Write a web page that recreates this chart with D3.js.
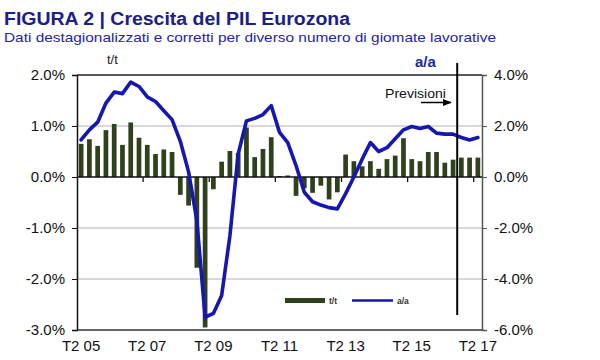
<!DOCTYPE html>
<html><head><meta charset="utf-8">
<script src="https://cdn.jsdelivr.net/npm/d3@7"></script>
<style>body{margin:0;background:#fff}svg{display:block}text{font-family:"Liberation Sans",Arial,sans-serif}</style>
</head><body>
<script>
const categories = ["T2 05","T3 05","T4 05","T1 06","T2 06","T3 06","T4 06","T1 07","T2 07","T3 07","T4 07","T1 08",
"T2 08","T3 08","T4 08","T1 09","T2 09","T3 09","T4 09","T1 10","T2 10","T3 10","T4 10","T1 11",
"T2 11","T3 11","T4 11","T1 12","T2 12","T3 12","T4 12","T1 13","T2 13","T3 13","T4 13","T1 14",
"T2 14","T3 14","T4 14","T1 15","T2 15","T3 15","T4 15","T1 16","T2 16","T3 16","T4 16","T1 17","T2 17"];
const qoq = [0.65,0.74,0.61,0.92,1.04,0.63,1.07,0.77,0.63,0.45,0.54,0.49,
-0.35,-0.56,-1.78,-2.95,-0.24,0.30,0.51,0.47,0.97,0.39,0.55,0.78,
0.02,0.03,-0.37,-0.22,-0.31,-0.17,-0.44,-0.30,0.44,0.31,0.21,0.31,
0.16,0.35,0.42,0.76,0.35,0.31,0.49,0.49,0.28,0.34,0.38,0.38,0.38];
const yoy = [1.46,1.85,2.15,2.90,3.33,3.27,3.72,3.55,3.14,2.96,2.60,2.25,
1.40,0.20,-1.70,-5.50,-5.35,-4.65,-2.30,0.90,2.20,2.30,2.45,2.80,
1.75,1.35,0.45,-0.60,-0.97,-1.10,-1.20,-1.25,-0.65,0.00,0.70,1.35,
1.00,1.15,1.50,1.85,1.98,1.90,1.98,1.72,1.68,1.68,1.55,1.45,1.55];
const xTickLabels = ["T2 05","T2 07","T2 09","T2 11","T2 13","T2 15","T2 17"];
const leftTicks = [-3,-2,-1,0,1,2];
const rightTicks = [-6,-4,-2,0,2,4];
const forecastStart = "T4 16";

const W=600,H=360, L=77, R=482, T=75, B=330;
const svg = d3.select("body").append("svg").attr("width",W).attr("height",H);

const x = d3.scaleBand().domain(categories).range([L,R]).paddingInner(0.43).paddingOuter(0.215);
const yL = d3.scaleLinear().domain([-3,2]).range([B,T]);
const yR = d3.scaleLinear().domain([-6,4]).range([B,T]);
const step = x.step();
const cx = d => x(d) + x.bandwidth()/2;

// title
svg.append("text").attr("x",4).attr("y",25).attr("font-size",18).attr("font-weight","bold").attr("fill","#1b2088")
  .attr("textLength",346).attr("lengthAdjust","spacingAndGlyphs")
  .text("FIGURA 2 | Crescita del PIL Eurozona");
svg.append("text").attr("x",4).attr("y",42).attr("font-size",13.5).attr("fill","#2424a6")
  .attr("textLength",492).attr("lengthAdjust","spacingAndGlyphs")
  .text("Dati destagionalizzati e corretti per diverso numero di giomate lavorative");

// gridlines
svg.append("g").selectAll("line").data([1,-1,-2]).join("line")
  .attr("x1",L).attr("x2",R).attr("y1",d=>yL(d)).attr("y2",d=>yL(d))
  .attr("stroke","#b4b4b4").attr("stroke-width",1.2);

// left axis
const fmt = d => d.toFixed(1)+"%";
const gl = svg.append("g").attr("transform",`translate(${L},0)`)
  .call(d3.axisLeft(yL).tickValues(leftTicks).tickFormat(fmt).tickSize(5).tickPadding(7));
gl.select(".domain").attr("stroke","#111").attr("stroke-width",1.5);
gl.selectAll(".tick line").attr("stroke","#111");
gl.selectAll("text").attr("font-size",15).attr("fill","#111").attr("font-family","Liberation Sans, Arial, sans-serif");

// right axis
const gr = svg.append("g").attr("transform",`translate(${R},0)`)
  .call(d3.axisRight(yR).tickValues(rightTicks).tickFormat(fmt).tickSize(5).tickPadding(7));
gr.select(".domain").attr("stroke","#555").attr("stroke-width",1.5);
gr.selectAll(".tick line").attr("stroke","#555");
gr.selectAll("text").attr("font-size",15).attr("fill","#111").attr("font-family","Liberation Sans, Arial, sans-serif");

// top and bottom frame
svg.append("line").attr("x1",L).attr("x2",R).attr("y1",T).attr("y2",T).attr("stroke","#222").attr("stroke-width",1.5);
svg.append("line").attr("x1",L).attr("x2",R).attr("y1",B).attr("y2",B).attr("stroke","#333").attr("stroke-width",1.5);

// bars
svg.append("g").selectAll("rect").data(qoq).join("rect")
  .attr("x",(d,i)=>x(categories[i]))
  .attr("width",x.bandwidth())
  .attr("y",d=>yL(Math.max(0,d)))
  .attr("height",d=>Math.abs(yL(d)-yL(0)))
  .attr("fill","#2f411c");

// zero line with ticks between categories every 8
svg.append("line").attr("x1",L).attr("x2",R).attr("y1",yL(0)).attr("y2",yL(0)).attr("stroke","#111").attr("stroke-width",1.5);
const tickBounds = categories.map((c,i)=>i).filter(i=>i>0 && i%8===0);
svg.append("g").selectAll("line").data(tickBounds).join("line")
  .attr("x1",i=>x(categories[i]) - (step - x.bandwidth())/2).attr("x2",i=>x(categories[i]) - (step - x.bandwidth())/2)
  .attr("y1",yL(0)).attr("y2",yL(0)+5).attr("stroke","#111").attr("stroke-width",1.3);

// x labels
svg.append("g").selectAll("text").data(xTickLabels).join("text")
  .attr("x",d=>cx(d)).attr("y",351).attr("text-anchor","middle").attr("font-size",15).attr("fill","#111").text(d=>d);

// line
const line = d3.line().x((d,i)=>cx(categories[i])).y(d=>yR(d)).curve(d3.curveLinear);
svg.append("path").datum(yoy).attr("d",line).attr("fill","none").attr("stroke","#1616b0")
  .attr("stroke-width",3.6).attr("stroke-linejoin","round").attr("stroke-linecap","round");

// forecast line
const fx = x(forecastStart) - (step - x.bandwidth())/2;
svg.append("line").attr("x1",fx).attr("x2",fx).attr("y1",63).attr("y2",315).attr("stroke","#000").attr("stroke-width",2);
svg.append("text").attr("x",385).attr("y",98).attr("font-size",12).attr("font-family","DejaVu Sans, sans-serif").attr("fill","#111")
  .attr("textLength",61).attr("lengthAdjust","spacingAndGlyphs").text("Previsioni");
svg.append("defs").append("marker").attr("id","arr").attr("viewBox","0 0 10 10").attr("refX",9).attr("refY",5)
  .attr("markerWidth",6).attr("markerHeight",6).attr("orient","auto")
  .append("path").attr("d","M0,1 L10,5 L0,9 Z").attr("fill","#000");
svg.append("line").attr("x1",421).attr("x2",451).attr("y1",102.5).attr("y2",102.5).attr("stroke","#000").attr("stroke-width",1.5).attr("marker-end","url(#arr)");

// axis titles
svg.append("text").attr("x",107).attr("y",64).attr("font-size",13).attr("fill","#222").text("t/t");
svg.append("text").attr("x",415).attr("y",67).attr("font-size",15).attr("font-weight","bold").attr("fill","#2424a6").text("a/a");

// legend
const lg = svg.append("g");
lg.append("line").attr("x1",285).attr("x2",325).attr("y1",300.5).attr("y2",300.5).attr("stroke","#2f411c").attr("stroke-width",5);
lg.append("text").attr("x",329).attr("y",303.5).attr("font-size",8.5).attr("font-weight","bold").attr("fill","#333").text("t/t");
lg.append("line").attr("x1",352).attr("x2",393).attr("y1",300.5).attr("y2",300.5).attr("stroke","#1616b0").attr("stroke-width",2.5);
lg.append("text").attr("x",397).attr("y",303.5).attr("font-size",8.5).attr("font-weight","bold").attr("fill","#333").text("a/a");
</script>
</body></html>
